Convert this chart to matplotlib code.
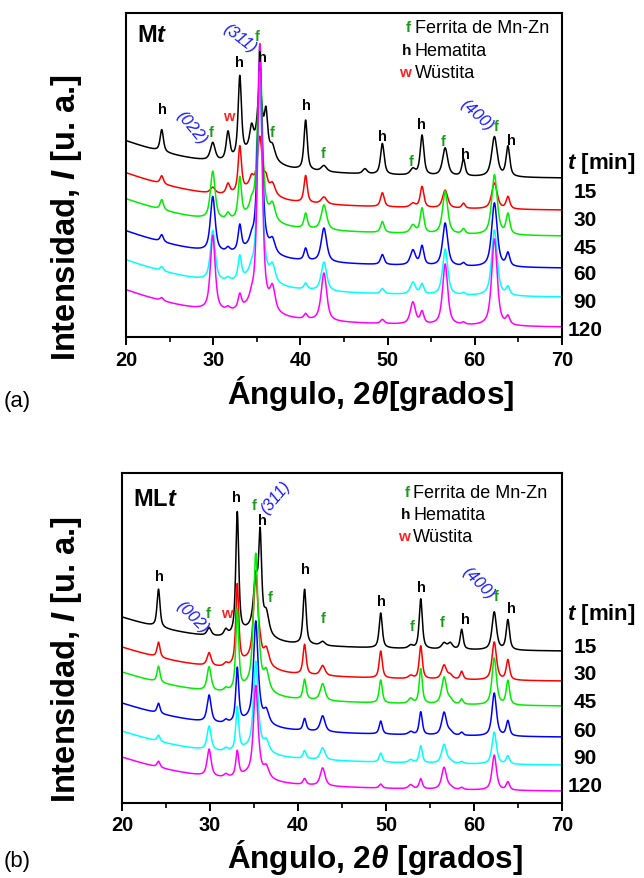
import numpy as np
import matplotlib
matplotlib.use("Agg")
import matplotlib.pyplot as plt
from matplotlib import font_manager as fm

W, H = 644, 879

available = {f.name for f in fm.fontManager.ttflist}
if "Liberation Sans Narrow" in available:
    NARROW, SHRINK = "Liberation Sans Narrow", 1.0
else:
    NARROW, SHRINK = "Liberation Sans", 0.84
SANS = "Liberation Sans"

plt.rcParams["font.family"] = [SANS, "DejaVu Sans"]
plt.rcParams["mathtext.fontset"] = "custom"
plt.rcParams["mathtext.it"] = f"{NARROW}:italic:bold"
plt.rcParams["mathtext.rm"] = f"{NARROW}:bold"
plt.rcParams["mathtext.bf"] = f"{NARROW}:bold"

# ---------------- data ----------------
times = ["15", "30", "45", "60", "90", "120"]
line_colors = ["#000000", "#ff0000", "#00ee00", "#0000ff", "#00ffff", "#ff00ff"]

# (a) Mt: peak centres [2θ], widths [FWHM, 2θ] and heights per milling time
centers_a = [24.1, 29.95, 31.7, 33.05, 34.4, 35.35, 36.05, 36.8, 40.6, 42.7,
             47.4, 49.4, 52.9, 53.95, 56.6, 58.7, 62.25, 63.8, 35.0]
fwhm_a = [0.45, 0.65, 0.50, 0.45, 0.50, 0.60, 0.45, 0.70, 0.45, 0.75,
          0.60, 0.50, 0.70, 0.50, 0.70, 0.45, 0.75, 0.50, 3.5]
amp_a_15 = [22, 18, 28, 80, 20, 62, 38, 12, 50, 6, 5, 31, 6, 40, 28, 17, 40, 30, 20]
amp_a_30 = [8, 6, 10, 45, 8, 48, 10, 10, 27, 7, 0, 14, 4, 21, 18, 5, 26, 12, 15]
amp_a_45 = [10, 48, 6, 40, 8, 170, 0, 15, 15, 25, 0, 11, 8, 25, 43, 5, 60, 20, 12]
amp_a_60 = [7, 55, 4, 25, 6, 190, 0, 12, 12, 34, 0, 10, 15, 19, 43, 3, 64, 13, 10]
amp_a_90 = [4, 50, 3, 23, 5, 205, 0, 15, 6, 29, 0, 5, 12, 10, 46, 2, 66, 8, 10]
amp_a_120 = [3, 75, 3, 14, 5, 262, 0, 22, 5, 48, 0, 4, 22, 12, 61, 2, 87, 8, 10]
level_a = [159, 127, 101, 69, 40, 10]          # intensity at 70°
scatter_a = 57                                  # low-angle background height

# (b) MLt
centers_b = [24.15, 29.9, 31.8, 33.1, 35.2, 35.7, 36.4, 40.75, 42.8, 49.4,
             52.8, 53.95, 56.6, 57.3, 58.6, 62.3, 63.85, 35.0]
fwhm_b = [0.40, 0.55, 0.50, 0.40, 0.60, 0.40, 0.70, 0.42, 0.65, 0.42,
          0.60, 0.42, 0.65, 0.60, 0.40, 0.60, 0.45, 3.5]
amp_b_15 = [38, 8, 6, 122, 48, 90, 20, 55, 4, 35, 3, 50, 6, 6, 20, 38, 30, 12]
amp_b_30 = [15, 13, 3, 80, 83, 8, 15, 30, 10, 27, 3, 33, 14, 4, 8, 38, 20, 12]
amp_b_45 = [16, 24, 3, 80, 132, 5, 18, 20, 17, 23, 5, 35, 27, 4, 5, 47, 24, 10]
amp_b_60 = [10, 27, 3, 54, 98, 3, 12, 12, 16, 13, 3, 23, 23, 3, 3, 43, 15, 8]
amp_b_90 = [6, 24, 3, 43, 86, 2, 10, 8, 12, 9, 3, 17, 19, 2, 2, 32, 8, 8]
amp_b_120 = [6, 27, 3, 25, 88, 2, 10, 6, 18, 4, 4, 10, 22, 2, 2, 35, 8, 8]
level_b = [152, 122, 97, 66, 38, 12]
scatter_b = 52

# phase marks: (letter, 2θ, intensity)
marks_a = [("h", 24.16, 228), ("f", 29.78, 205), ("w", 31.73, 221), ("h", 32.96, 275),
           ("f", 34.99, 301), ("h", 35.68, 280), ("f", 36.71, 205), ("h", 40.72, 232),
           ("f", 42.63, 184), ("h", 49.44, 201), ("f", 52.76, 176), ("h", 53.91, 213),
           ("f", 56.32, 196), ("h", 58.88, 183), ("f", 62.40, 211), ("h", 64.23, 197)]
hkl_a = [("(022)", 27.53, 210, -50), ("(311)", 33.07, 299, -38), ("(400)", 60.22, 223, -42)]

marks_b = [("h", 24.24, 227), ("f", 29.81, 190), ("w", 31.90, 190), ("h", 33.03, 306),
           ("f", 35.0, 298), ("h", 35.94, 283), ("f", 36.82, 206), ("h", 40.80, 234),
           ("f", 42.81, 185), ("h", 49.51, 202), ("f", 52.92, 177), ("h", 54.06, 216),
           ("f", 56.40, 181), ("h", 58.98, 184), ("f", 62.47, 207), ("h", 64.28, 195)]
hkl_b = [("(002)", 27.99, 187, -45), ("(311)", 37.39, 306, 50), ("(400)", 60.49, 221, -45)]

phases = [("f", "Ferrita de Mn-Zn"), ("h", "Hematita"), ("w", "Wüstita")]
mark_colors = {"f": "#1c9a1c", "h": "#000000", "w": "#ff2020"}
hkl_color = "#1a1aff"

# ---------------- drawing ----------------
two_theta = np.linspace(20, 70, 3001)


def profile(x, c, a, w, eta=0.7):
    hw = w / 2.0
    u = ((x - c) / hw) ** 2
    return a * (eta / (1 + u) + (1 - eta) * np.exp(-np.log(2) * u))


def pattern(centers, widths, amps, level, scatter):
    low = lambda x: scatter / (1 + ((x - 12.0) / 12.0) ** 2)
    y = np.full_like(two_theta, level - low(70.0)) + low(two_theta)
    for c, w, a in zip(centers, widths, amps):
        y = y + profile(two_theta, c, a, w)
    return y


fig = plt.figure(figsize=(W / 100, H / 100), dpi=100)


def rect(l, t, r, b):
    return [l / W, 1 - b / H, (r - l) / W, (b - t) / H]


def fxy(px, py):
    return px / W, 1 - py / H


def setup(ax, ymax):
    ax.set_xlim(20, 70)
    ax.set_ylim(0, ymax)
    ax.set_yticks([])
    ax.set_xticks(range(20, 71, 10))
    ax.set_xticks(range(25, 70, 10), minor=True)
    ax.tick_params(axis="x", which="major", direction="out", length=6, width=1.4,
                   labelsize=17 * SHRINK, pad=3)
    ax.tick_params(axis="x", which="minor", direction="out", length=3.5, width=1.2)
    for lab in ax.get_xticklabels():
        lab.set_fontfamily(NARROW)
        lab.set_fontweight("bold")
    for s in ax.spines.values():
        s.set_linewidth(1.5)


panels = [
    dict(rect=rect(126, 14, 562, 338), ymax=324, centers=centers_a, widths=fwhm_a,
         amps=[amp_a_15, amp_a_30, amp_a_45, amp_a_60, amp_a_90, amp_a_120],
         levels=level_a, scatter=scatter_a, marks=marks_a, hkl=hkl_a, title="M",
         legend_x=(52.68, 53.14), legend_y=(310, 287, 265), title_y=303,
         xlabel=r"Ángulo, 2$\theta$[grados]", xlabel_xy=(371, 394),
         ylabel_xy=(66, 218), tag="(a)", tag_xy=(17, 402),
         tmin_y=163, time_y=[192, 220, 248, 275, 303, 330]),
    dict(rect=rect(122, 474, 562, 804), ymax=330, centers=centers_b, widths=fwhm_b,
         amps=[amp_b_15, amp_b_30, amp_b_45, amp_b_60, amp_b_90, amp_b_120],
         levels=level_b, scatter=scatter_b, marks=marks_b, hkl=hkl_b, title="ML",
         legend_x=(52.73, 53.10), legend_y=(311, 289, 267), title_y=304,
         xlabel=r"Ángulo, 2$\theta$ [grados]", xlabel_xy=(375, 858),
         ylabel_xy=(66, 660), tag="(b)", tag_xy=(17, 862),
         tmin_y=615, time_y=[648, 675, 703, 732, 759, 787]),
]

for p in panels:
    ax = fig.add_axes(p["rect"])
    setup(ax, p["ymax"])
    for amps, lev, col in zip(p["amps"], p["levels"], line_colors):
        ax.plot(two_theta, pattern(p["centers"], p["widths"], amps, lev, p["scatter"]),
                color=col, lw=1.1)

    for letter, x, y in p["marks"]:
        ax.text(x, y, letter, color=mark_colors[letter], fontsize=10.5,
                fontweight="bold", ha="center", va="center")
    for lab, x, y, rot in p["hkl"]:
        ax.text(x, y, lab, color=hkl_color, fontsize=12, fontstyle="italic",
                rotation=rot, ha="center", va="center", rotation_mode="anchor")

    lx_mark, lx_text = p["legend_x"]
    for (letter, name), y in zip(phases, p["legend_y"]):
        ax.text(lx_mark, y, letter, color=mark_colors[letter], fontsize=11,
                fontweight="bold", ha="right", va="center")
        ax.text(lx_text, y, name, color="black", fontsize=13, ha="left", va="center")

    ax.text(21.3, p["title_y"], p["title"] + r"$\mathit{t}$", fontsize=17,
            fontweight="bold", ha="left", va="center")

    fig.text(*fxy(*p["xlabel_xy"]), p["xlabel"], fontsize=27 * SHRINK,
             fontfamily=NARROW, fontweight="bold", ha="center", va="center")
    fig.text(*fxy(*p["ylabel_xy"]), r"Intensidad, $\mathit{I}$ [u. a.]",
             fontsize=28 * SHRINK, fontfamily=NARROW, fontweight="bold",
             rotation=90, ha="center", va="center")
    fig.text(*fxy(*p["tag_xy"]), p["tag"], fontsize=19 * SHRINK, fontfamily=NARROW,
             ha="center", va="center")

    fig.text(*fxy(567, p["tmin_y"]), r"$\mathit{t}$ [min]", fontsize=16,
             fontweight="bold", ha="left", va="center")
    for t, y in zip(times, p["time_y"]):
        fig.text(*fxy(585, y), t, fontsize=15, fontweight="bold",
                 ha="center", va="center")

fig.savefig("out.png", dpi=100)
